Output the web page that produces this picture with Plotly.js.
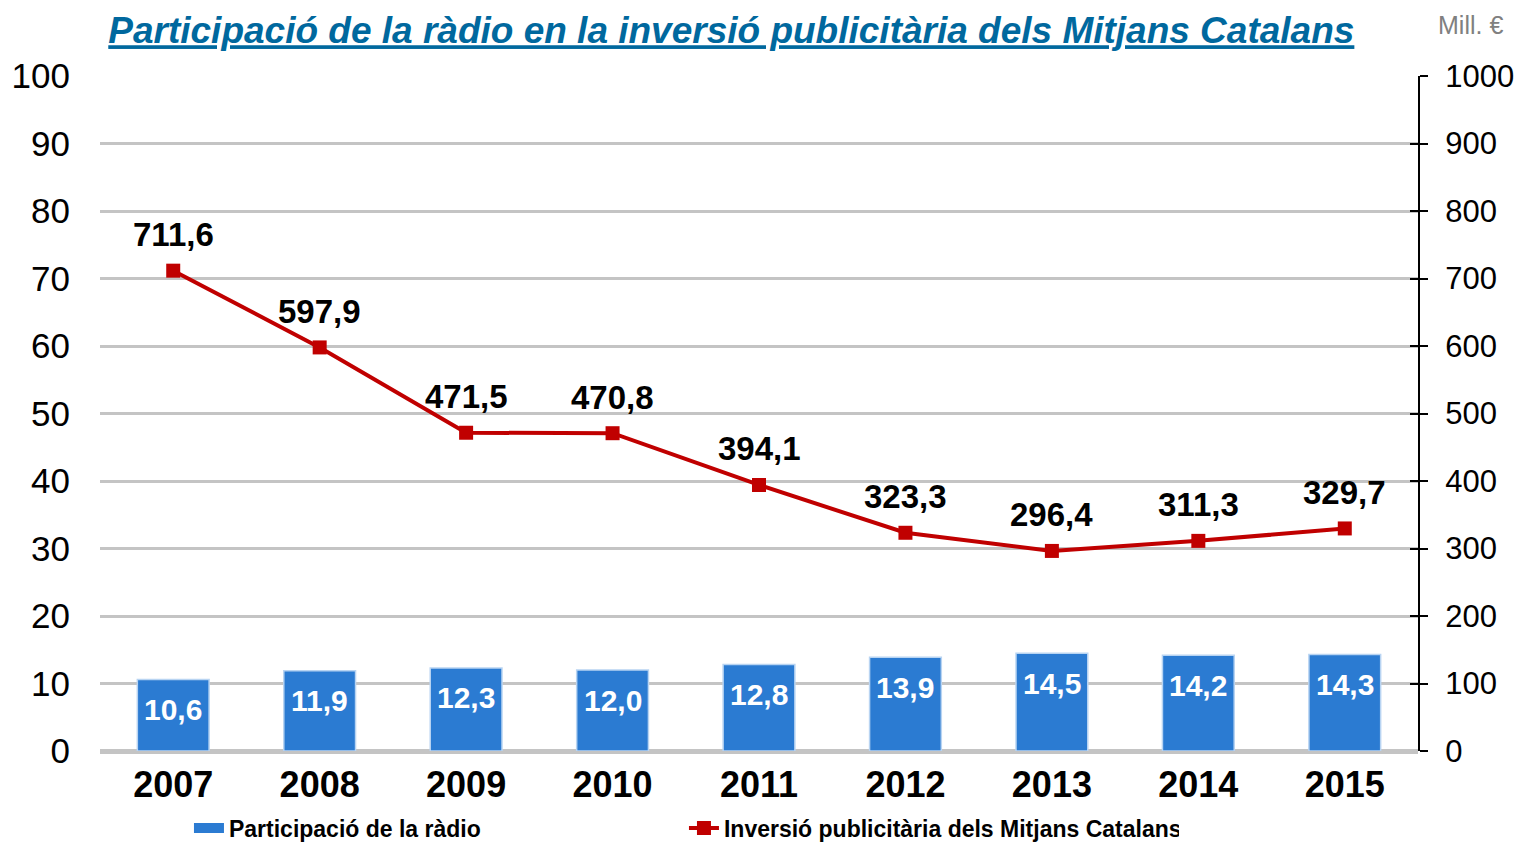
<!DOCTYPE html>
<html>
<head>
<meta charset="utf-8">
<script src="https://cdn.plot.ly/plotly-3.0.1.min.js"></script>
<style>html,body{margin:0;padding:0;background:#fff;}#chart{width:1520px;height:842px;}</style>
</head>
<body>
<div id="chart"></div>
<script>
const years = ['2007','2008','2009','2010','2011','2012','2013','2014','2015'];
const radioShare = [10.6, 11.9, 12.3, 12.0, 12.8, 13.9, 14.5, 14.2, 14.3];
const investment = [711.6, 597.9, 471.5, 470.8, 394.1, 323.3, 296.4, 311.3, 329.7];
const leftTicks = [0,10,20,30,40,50,60,70,80,90,100];
const rightTicks = [0,100,200,300,400,500,600,700,800,900,1000];

const fmt = v => v.toFixed(1).replace('.', ',');
const FONT = 'Liberation Sans, Arial, sans-serif';
const BAR_COLOR = '#2b7bd2';
const LINE_COLOR = '#c00000';

const bars = {
  type: 'bar',
  name: 'Participació de la ràdio',
  x: years,
  y: radioShare,
  marker: {color: BAR_COLOR, line: {color: '#b8d4f2', width: 1.5}},
  yaxis: 'y',
  showlegend: false,
  hoverinfo: 'skip'
};

// legend-only entry for the bars (wide rectangle symbol)
const barLegend = {
  type: 'scatter',
  mode: 'lines',
  name: 'Participació de la ràdio',
  x: [null],
  y: [null],
  line: {color: BAR_COLOR, width: 13},
  yaxis: 'y3',
  hoverinfo: 'skip'
};

const line = {
  type: 'scatter',
  mode: 'lines+markers',
  name: 'Inversió publicitària dels Mitjans Catalans',
  x: years,
  y: investment,
  line: {color: LINE_COLOR, width: 4},
  marker: {symbol: 'square', size: 14, color: LINE_COLOR},
  yaxis: 'y2',
  hoverinfo: 'skip'
};

// category index positions derived from the data arrays
const barLabels = radioShare.map((v, i) => ({
  x: i, y: v, xref: 'x', yref: 'y',
  text: fmt(v),
  showarrow: false, yanchor: 'middle', xanchor: 'center', yshift: -30,
  font: {family: FONT, size: 30, color: '#ffffff', weight: 'bold'}
}));

const lineLabels = investment.map((v, i) => ({
  x: i, y: v, xref: 'x', yref: 'y2',
  text: fmt(v),
  showarrow: false, yanchor: 'middle', xanchor: 'center', yshift: 36,
  font: {family: FONT, size: 33, color: '#000000', weight: 'bold'}
}));

const layout = {
  width: 1520,
  height: 842,
  paper_bgcolor: '#ffffff',
  plot_bgcolor: '#ffffff',
  margin: {l: 100, r: 102, t: 76, b: 91, autoexpand: false},
  bargap: 0.51,
  showlegend: true,
  title: {
    text: 'Participació de la ràdio en la inversió publicitària dels Mitjans Catalans',
    font: {family: FONT, size: 37, color: '#00689e', weight: 'bold', style: 'italic', lineposition: 'under'},
    xref: 'paper', x: 0.479, xanchor: 'center',
    yref: 'container', y: 0.964, yanchor: 'middle'
  },
  xaxis: {
    type: 'category',
    range: [-0.5, 8.5],
    showline: false, showgrid: false, zeroline: false,
    ticks: '',
    tickfont: {family: FONT, size: 36, color: '#000000', weight: 'bold'},
    ticklabelstandoff: 9
  },
  yaxis: {
    range: [0, 100],
    tickvals: leftTicks,
    ticktext: leftTicks.map(String),
    showline: false,
    showgrid: true, gridcolor: '#c4c4c4', gridwidth: 3,
    zeroline: true, zerolinecolor: '#c4c4c4', zerolinewidth: 5,
    ticks: '',
    tickfont: {family: FONT, size: 35, color: '#000000'},
    ticklabelstandoff: 29
  },
  yaxis2: {
    range: [0, 1000],
    overlaying: 'y',
    side: 'right',
    tickvals: rightTicks,
    ticktext: rightTicks.map(String),
    showgrid: false, zeroline: false,
    showline: true, linecolor: '#000000', linewidth: 2,
    ticks: 'outside', ticklen: 8, tickwidth: 2, tickcolor: '#000000',
    tickfont: {family: FONT, size: 31, color: '#000000'},
    ticklabelstandoff: 11
  },
  yaxis3: {
    range: [0, 1000],
    overlaying: 'y',
    side: 'right',
    tickvals: rightTicks,
    showticklabels: false,
    showgrid: false, zeroline: false, showline: false,
    ticks: 'inside', ticklen: 8, tickwidth: 2, tickcolor: '#000000'
  },
  legend: {
    orientation: 'h',
    x: 0.0675, xanchor: 'left',
    y: -0.114, yanchor: 'middle',
    font: {family: FONT, size: 23, color: '#000000', weight: 'bold'},
    entrywidth: 450, entrywidthmode: 'pixels',
    traceorder: 'normal',
    bgcolor: 'rgba(0,0,0,0)'
  },
  annotations: barLabels.concat(lineLabels, [{
    text: 'Mill. €',
    xref: 'paper', yref: 'paper',
    x: 1.0395, y: 1.075, xanchor: 'center', yanchor: 'middle',
    showarrow: false,
    font: {family: FONT, size: 25, color: '#808080'}
  }])
};

Plotly.newPlot('chart', [bars, barLegend, line], layout, {displayModeBar: false, staticPlot: true});
</script>
</body>
</html>
